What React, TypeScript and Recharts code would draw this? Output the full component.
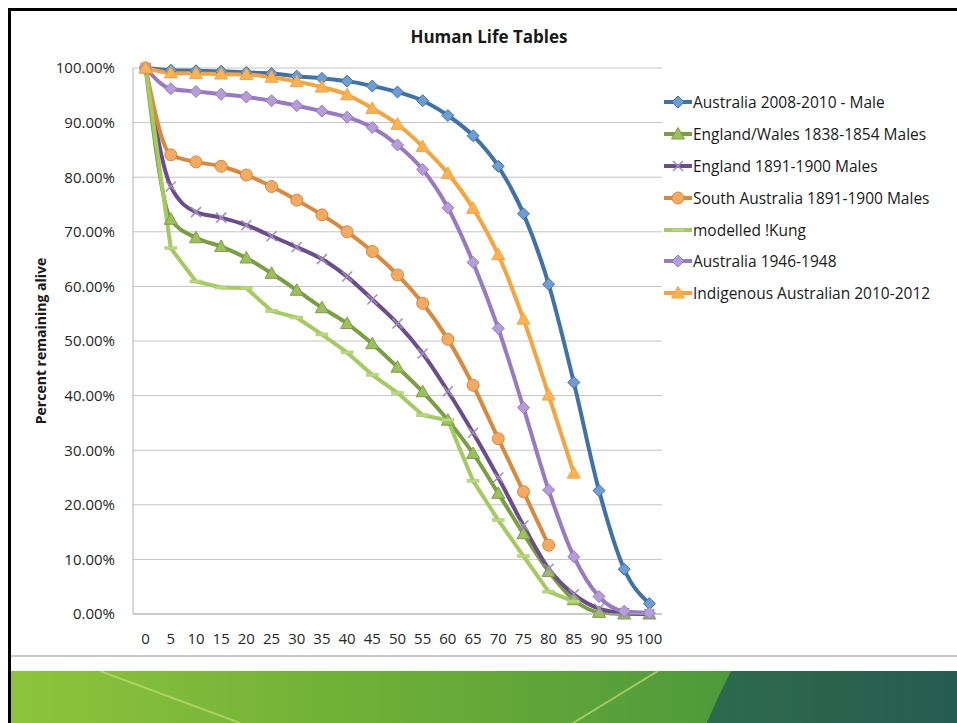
import { CartesianGrid, Line, LineChart, XAxis, YAxis } from "recharts";

const ages = [0, 5, 10, 15, 20, 25, 30, 35, 40, 45, 50, 55, 60, 65, 70, 75, 80, 85, 90, 95, 100];
const yTicks = [0, 10, 20, 30, 40, 50, 60, 70, 80, 90, 100];

const ausMale2008 = [100, 99.6, 99.5, 99.4, 99.2, 99.0, 98.5, 98.1, 97.6, 96.7, 95.6, 94.0, 91.3, 87.6, 82.0, 73.3, 60.4, 42.4, 22.6, 8.2, 1.9];
const engWales1838 = [100, 72.3, 68.9, 67.3, 65.2, 62.4, 59.3, 56.1, 53.2, 49.5, 45.2, 40.7, 35.5, 29.4, 22.1, 14.7, 7.8, 2.6, 0.3, 0, 0];
const eng1891 = [100, 78.3, 73.6, 72.6, 71.2, 69.2, 67.2, 65.0, 61.8, 57.6, 53.2, 47.7, 40.8, 33.2, 25.0, 16.2, 8.3, 3.6, 1.0, 0.2, 0];
const southAus1891 = [100, 84.1, 82.8, 82.0, 80.4, 78.3, 75.8, 73.1, 70.0, 66.4, 62.1, 56.9, 50.3, 41.9, 32.1, 22.4, 12.6, null, null, null, null];
const kung = [100, 67.0, 60.9, 59.8, 59.7, 55.5, 54.3, 51.2, 47.9, 43.8, 40.5, 36.4, 35.5, 24.4, 17.2, 10.6, 4.1, 2.3, null, null, null];
const aus1946 = [100, 96.2, 95.7, 95.2, 94.7, 94.0, 93.1, 92.1, 91.0, 89.1, 85.9, 81.4, 74.4, 64.4, 52.3, 37.8, 22.7, 10.5, 3.2, 0.5, 0.2];
const indigenous2010 = [100, 99.1, 99.0, 98.9, 98.8, 98.3, 97.5, 96.5, 95.1, 92.6, 89.7, 85.6, 80.7, 74.3, 65.8, 54.0, 40.1, 25.8, null, null, null];

type Marker = "diamond" | "triangle" | "x" | "circle" | "dash";

const series = [
  { key: "aus2008", name: "Australia 2008-2010 - Male", values: ausMale2008, color: "#3e72a8", fill: "#6d9dd3", marker: "diamond" as Marker, curve: "monotone" },
  { key: "engWales", name: "England/Wales 1838-1854 Males", values: engWales1838, color: "#7a9f42", fill: "#9dbf5c", marker: "triangle" as Marker, curve: "monotone" },
  { key: "eng1891", name: "England 1891-1900 Males", values: eng1891, color: "#6b4c8c", fill: "#a08cc0", marker: "x" as Marker, curve: "monotone" },
  { key: "sa1891", name: "South Australia 1891-1900 Males", values: southAus1891, color: "#da883c", fill: "#f5aa62", marker: "circle" as Marker, curve: "monotone" },
  { key: "kung", name: "modelled !Kung", values: kung, color: "#a5ca62", fill: "#b9d87f", marker: "dash" as Marker, curve: "linear" },
  { key: "aus1946", name: "Australia 1946-1948", values: aus1946, color: "#987ac4", fill: "#b59dd9", marker: "diamond" as Marker, curve: "monotone" },
  { key: "indig", name: "Indigenous Australian 2010-2012", values: indigenous2010, color: "#f7a33e", fill: "#fbb352", marker: "triangle" as Marker, curve: "monotone" },
];

const data = ages.map((age, i) => {
  const row: Record<string, number | null> = { age };
  series.forEach((s) => {
    row[s.key] = s.values[i];
  });
  return row;
});

const FONT = "'Open Sans', sans-serif";

function markerShape(kind: Marker, cx: number, cy: number, fill: string, stroke: string) {
  switch (kind) {
    case "diamond":
      return (
        <polygon
          points={`${cx},${cy - 6} ${cx + 6},${cy} ${cx},${cy + 6} ${cx - 6},${cy}`}
          fill={fill}
          stroke={stroke}
          strokeWidth={1}
        />
      );
    case "triangle":
      return (
        <polygon
          points={`${cx},${cy - 6.5} ${cx + 6.5},${cy + 5} ${cx - 6.5},${cy + 5}`}
          fill={fill}
          stroke={stroke}
          strokeWidth={1}
        />
      );
    case "circle":
      return <circle cx={cx} cy={cy} r={6} fill={fill} stroke={stroke} strokeWidth={1} />;
    case "x":
      return (
        <path
          d={`M${cx - 5},${cy - 5}L${cx + 5},${cy + 5}M${cx - 5},${cy + 5}L${cx + 5},${cy - 5}`}
          stroke={fill}
          strokeWidth={1.5}
          fill="none"
        />
      );
    case "dash":
      return <rect x={cx - 6} y={cy - 1.5} width={12} height={3} fill={fill} stroke={stroke} strokeWidth={0.5} />;
  }
}

function Legend() {
  return (
    <div style={{ position: "absolute", left: 652, top: 75, fontFamily: FONT, fontSize: 15.5, color: "#1a1a1a" }}>
      {series.map((s) => (
        <div key={s.key} style={{ display: "flex", alignItems: "center", height: 31.9, whiteSpace: "nowrap" }}>
          <svg width={30} height={16}>
            <line x1={1} y1={8} x2={29} y2={8} stroke={s.color} strokeWidth={4} />
            {markerShape(s.marker, 15, 8, s.fill, s.color)}
          </svg>
          <span>{s.name}</span>
        </div>
      ))}
    </div>
  );
}

function Banner() {
  return (
    <svg width={946} height={52} style={{ position: "absolute", left: 0, top: 660, display: "block" }}>
      <defs>
        <linearGradient id="bannerGreen" x1="0" y1="0" x2="1" y2="0">
          <stop offset="0" stopColor="#8dc43c" />
          <stop offset="0.4" stopColor="#6dae37" />
          <stop offset="0.75" stopColor="#4f9a3b" />
          <stop offset="1" stopColor="#3f8a3e" />
        </linearGradient>
        <linearGradient id="bannerDark" x1="0" y1="0" x2="1" y2="0">
          <stop offset="0" stopColor="#2f6d4b" />
          <stop offset="0.45" stopColor="#1d4d56" />
          <stop offset="1" stopColor="#1a4458" />
        </linearGradient>
      </defs>
      <rect x={0} y={0} width={946} height={52} fill="url(#bannerGreen)" />
      <circle cx={1290} cy={300} r={644} fill="url(#bannerDark)" />
      <line x1={89} y1={0} x2={229} y2={52} stroke="#b8dc70" strokeWidth={2} opacity={0.75} />
      <line x1={647} y1={0} x2={562} y2={52} stroke="#b8dc70" strokeWidth={2} opacity={0.75} />
    </svg>
  );
}

export default function App() {
  return (
    <div
      style={{
        position: "fixed",
        left: 8,
        top: 8,
        width: 949,
        height: 715,
        boxSizing: "border-box",
        borderTop: "3px solid #000",
        borderLeft: "3px solid #000",
        overflow: "hidden",
        background: "#fff",
        fontFamily: FONT,
      }}
    >
      <div
        style={{
          position: "absolute",
          left: 0,
          top: 16,
          width: 956,
          textAlign: "center",
          fontSize: 17,
          fontWeight: 700,
          lineHeight: "20px",
          color: "#1a1a1a",
        }}
      >
        Human Life Tables
      </div>
      <div style={{ position: "absolute", left: 0, top: 0 }}>
        <LineChart width={940} height={640} data={data} margin={{ top: 57, right: 289, bottom: 7, left: 0 }}>
          <CartesianGrid horizontal vertical={false} stroke="#c4c4c4" strokeWidth={1} />
          <XAxis
            dataKey="age"
            type="category"
            height={30}
            padding={{ left: 12.6, right: 12.6 }}
            tickLine={false}
            tickSize={0}
            tickMargin={19}
            axisLine={{ stroke: "#b3b3b3" }}
            tick={{ fill: "#262626", fontSize: 15, fontFamily: FONT }}
            interval={0}
          />
          <YAxis
            domain={[0, 100]}
            ticks={yTicks}
            width={122}
            tickLine={false}
            tickSize={0}
            tickMargin={18}
            axisLine={{ stroke: "#b3b3b3" }}
            tick={{ fill: "#262626", fontSize: 15, fontFamily: FONT }}
            tickFormatter={(v: number) => `${v.toFixed(2)}%`}
            label={{
              value: "Percent remaining alive",
              angle: -90,
              position: "insideLeft",
              offset: 30,
              style: { textAnchor: "middle", fontSize: 14, fontWeight: 700, fontFamily: FONT, fill: "#1a1a1a" },
            }}
          />
          {series.map((s) => (
            <Line
              key={s.key}
              dataKey={s.key}
              name={s.name}
              type={s.curve as "monotone" | "linear"}
              stroke={s.color}
              strokeWidth={4}
              connectNulls={false}
              isAnimationActive={false}
              activeDot={false}
              dot={(p: any) =>
                p.cy == null || p.value == null ? (
                  <g key={`${s.key}-${p.index}`} />
                ) : (
                  <g key={`${s.key}-${p.index}`}>{markerShape(s.marker, p.cx, p.cy, s.fill, s.color)}</g>
                )
              }
            />
          ))}
        </LineChart>
      </div>
      <div style={{ position: "absolute", left: 0, top: 644, width: 946, height: 2, background: "#c8c8c8" }} />
      <Legend />
      <Banner />
    </div>
  );
}
